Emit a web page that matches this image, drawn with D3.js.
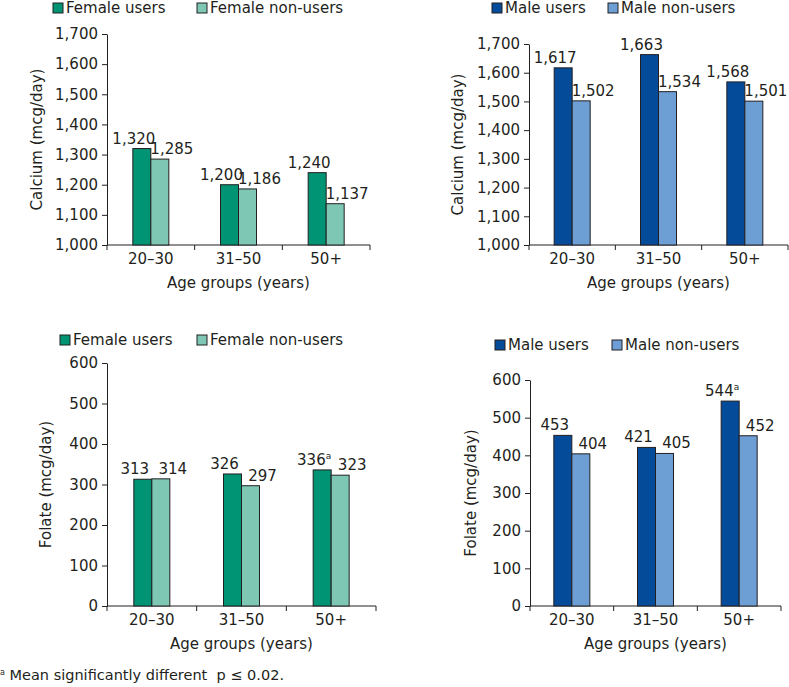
<!DOCTYPE html>
<meta charset="utf-8">
<head>
<style>
  body { margin: 0; background: #fff; }
  svg text { font-family: "DejaVu Sans", sans-serif; fill: #231f20; }
</style>
</head>
<script src="https://d3js.org/d3.v7.min.js"></script>
<div id="chart"></div>
<script>
// categories
const ageGroups = ["20–30", "31–50", "50+"];

// calcium (mcg/day)
const femaleCalciumUsers = [1320, 1200, 1240];
const femaleCalciumNonUsers = [1285, 1186, 1137];
const maleCalciumUsers = [1617, 1663, 1568];
const maleCalciumNonUsers = [1502, 1534, 1501];

// folate (mcg/day)
const femaleFolateUsers = [313, 326, 336];
const femaleFolateNonUsers = [314, 297, 323];
const maleFolateUsers = [453, 421, 544];
const maleFolateNonUsers = [404, 405, 452];

// superscript "a" marks (significant difference)
const femaleFolateFlags = [false, false, true];
const maleFolateFlags = [false, false, true];

const calciumTicks = [1000, 1100, 1200, 1300, 1400, 1500, 1600, 1700];
const folateTicks = [0, 100, 200, 300, 400, 500, 600];

const femaleColors = ["#009474", "#7fc7b5"];
const maleColors = ["#044b9a", "#6d9fd5"];

const FS = "15px";

const svg = d3.select("#chart").append("svg")
    .attr("width", 789)
    .attr("height", 687);

function drawPanel(o) {
  const g = svg.append("g");

  const y = d3.scaleLinear().domain(o.domain).range([o.yBot, o.yTop]);
  const x = d3.scaleBand().domain(ageGroups).range([o.x0, o.x1]);
  const bw = x.bandwidth();
  const barW = 18;

  // y axis
  const yAxis = d3.axisLeft(y)
      .tickValues(o.ticks)
      .tickFormat(d3.format(","))
      .tickSize(5)
      .tickSizeOuter(0)
      .tickPadding(4);
  const ya = g.append("g")
      .attr("transform", `translate(${o.x0},0)`)
      .call(yAxis);
  ya.selectAll("text").style("font-size", FS);
  ya.selectAll("line, path").attr("stroke", "#231f20");

  // x axis line + boundary ticks
  g.append("line")
      .attr("x1", o.x0).attr("x2", o.x1)
      .attr("y1", o.yBot).attr("y2", o.yBot)
      .attr("stroke", "#231f20");
  const bounds = ageGroups.map(d => x(d)).concat([x(ageGroups[2]) + bw]);
  g.selectAll(".xt").data(bounds).join("line")
      .attr("x1", d => d).attr("x2", d => d)
      .attr("y1", o.yBot).attr("y2", o.yBot + 5)
      .attr("stroke", "#231f20");

  g.selectAll(".xl").data(ageGroups).join("text")
      .attr("x", d => x(d) + bw / 2)
      .attr("y", o.yBot + 19)
      .attr("text-anchor", "middle")
      .style("font-size", FS)
      .text(d => d);

  g.append("text")
      .attr("x", (o.x0 + o.x1) / 2)
      .attr("y", o.yBot + 43)
      .attr("text-anchor", "middle")
      .style("font-size", FS)
      .text("Age groups (years)");

  g.append("text")
      .attr("transform", `translate(${o.titleX},${(o.yTop + o.yBot) / 2}) rotate(-90)`)
      .attr("text-anchor", "middle")
      .style("font-size", FS)
      .text(o.yTitle);

  // bars
  const series = [o.users, o.nonUsers];
  series.forEach((vals, s) => {
    g.selectAll(".bar" + s).data(vals).join("rect")
        .attr("x", (d, i) => x(ageGroups[i]) + bw / 2 - barW + s * barW)
        .attr("y", d => y(d))
        .attr("width", barW)
        .attr("height", d => o.yBot - y(d))
        .attr("fill", o.colors[s])
        .attr("stroke", "#231f20")
        .attr("stroke-width", 1);

    const lab = g.selectAll(".lab" + s).data(vals).join("text")
        .attr("x", (d, i) => x(ageGroups[i]) + bw / 2 + (s === 0 ? -barW / 2 - 8 : barW / 2 + 12))
        .attr("y", d => y(d) - 5)
        .attr("text-anchor", "middle")
        .style("font-size", FS);
    lab.append("tspan").text(d => d3.format(",")(d));
    if (s === 0 && o.flags) {
      lab.filter((d, i) => o.flags[i]).append("tspan")
          .attr("dy", -6)
          .style("font-size", "9px")
          .text("a");
    }
  });

  // legend
  o.legendX.forEach((lx, s) => {
    g.append("rect")
        .attr("x", lx).attr("y", o.legendY - 5)
        .attr("width", 10).attr("height", 10)
        .attr("fill", o.colors[s])
        .attr("stroke", "#231f20");
    g.append("text")
        .attr("x", lx + 13).attr("y", o.legendY + 5)
        .style("font-size", FS)
        .text(o.legendLabels[s]);
  });
}

drawPanel({
  users: femaleCalciumUsers, nonUsers: femaleCalciumNonUsers,
  domain: [1000, 1700], ticks: calciumTicks,
  x0: 107, x1: 370, yTop: 34, yBot: 245, titleX: 42,
  yTitle: "Calcium (mcg/day)", colors: femaleColors,
  legendX: [53, 197], legendY: 8,
  legendLabels: ["Female users", "Female non-users"]
});

drawPanel({
  users: maleCalciumUsers, nonUsers: maleCalciumNonUsers,
  domain: [1000, 1700], ticks: calciumTicks,
  x0: 529, x1: 788, yTop: 44, yBot: 245, titleX: 463,
  yTitle: "Calcium (mcg/day)", colors: maleColors,
  legendX: [492, 608], legendY: 8,
  legendLabels: ["Male users", "Male non-users"]
});

drawPanel({
  users: femaleFolateUsers, nonUsers: femaleFolateNonUsers, flags: femaleFolateFlags,
  domain: [0, 600], ticks: folateTicks,
  x0: 107, x1: 376, yTop: 363, yBot: 606, titleX: 51,
  yTitle: "Folate (mcg/day)", colors: femaleColors,
  legendX: [60, 197], legendY: 340,
  legendLabels: ["Female users", "Female non-users"]
});

drawPanel({
  users: maleFolateUsers, nonUsers: maleFolateNonUsers, flags: maleFolateFlags,
  domain: [0, 600], ticks: folateTicks,
  x0: 530, x1: 781, yTop: 380, yBot: 606, titleX: 476,
  yTitle: "Folate (mcg/day)", colors: maleColors,
  legendX: [495, 612], legendY: 345,
  legendLabels: ["Male users", "Male non-users"]
});

// footnote
const foot = svg.append("text")
    .attr("x", 0).attr("y", 680)
    .style("white-space", "pre")
    .style("font-size", "14.5px");
foot.append("tspan").attr("dy", -5).style("font-size", "8px").text("a");
foot.append("tspan").attr("dy", 5).text(" Mean significantly different  p ≤ 0.02.");
</script>
